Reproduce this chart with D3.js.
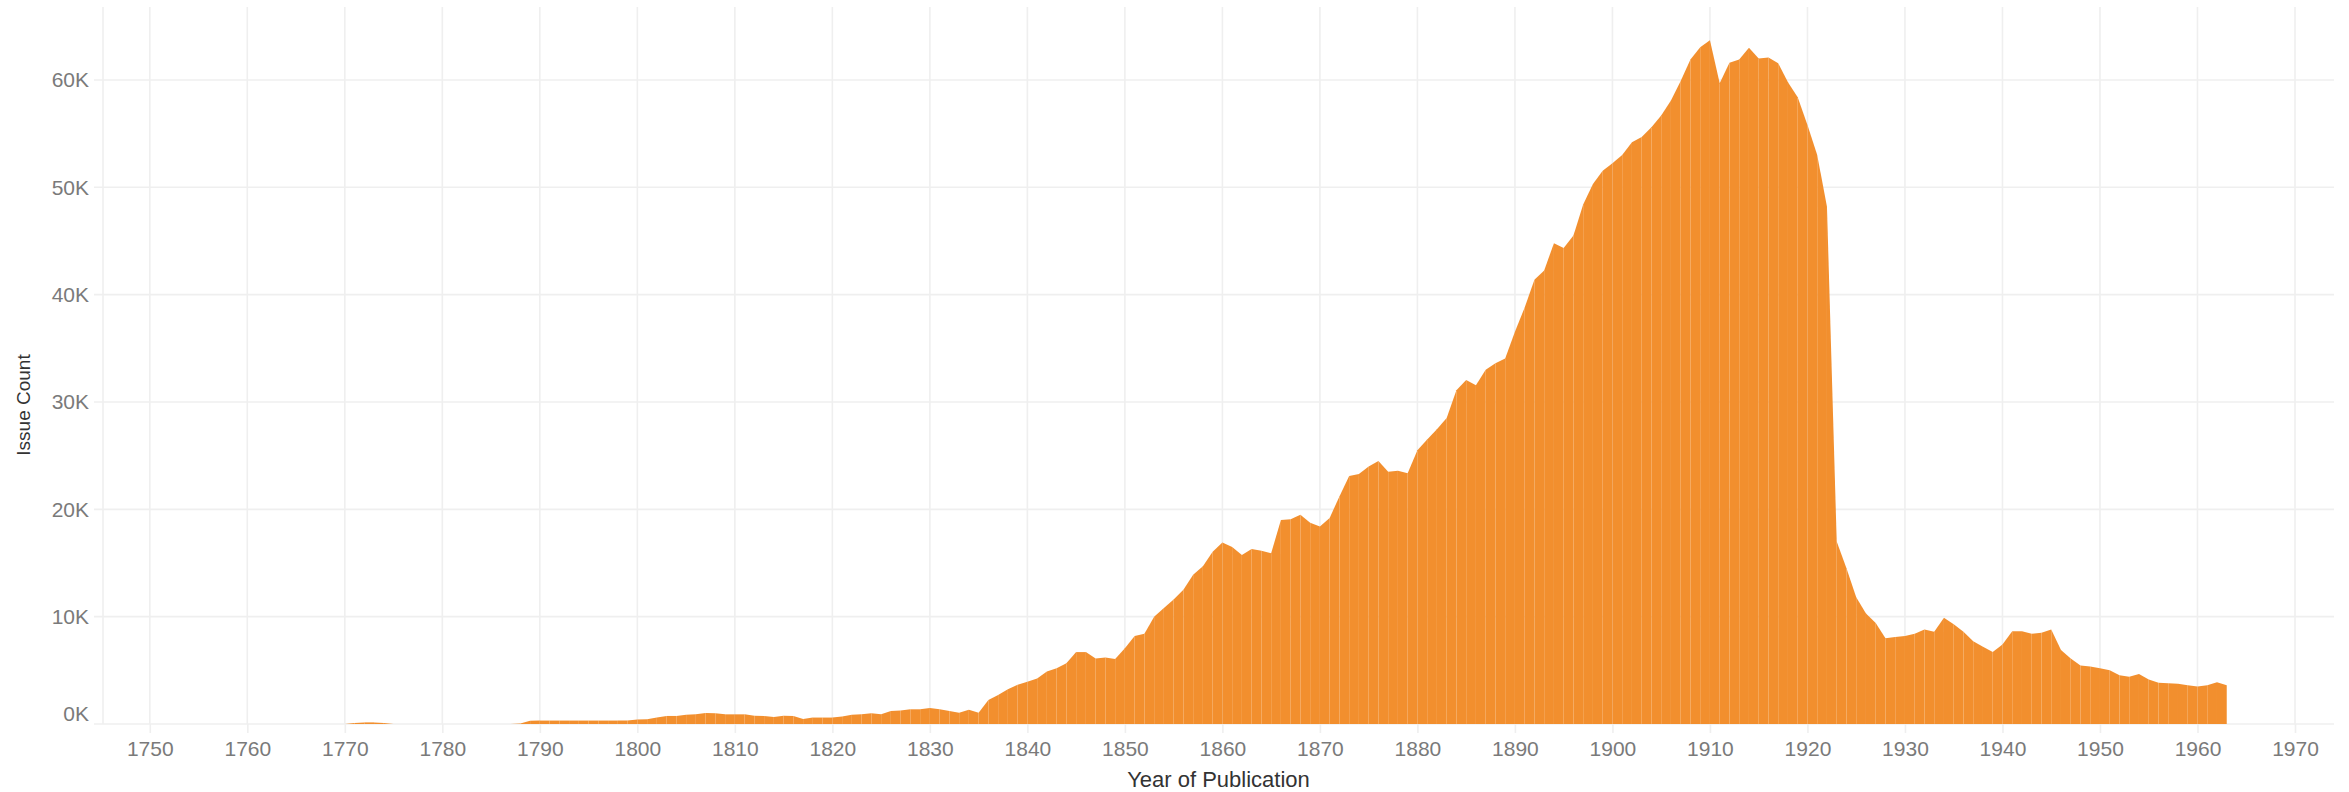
<!DOCTYPE html>
<html>
<head>
<meta charset="utf-8">
<script src="https://cdn.jsdelivr.net/npm/d3@7"></script>
<style>
  body { margin: 0; background: #fff; }
  svg { display: block; }
</style>
</head>
<body>
<svg id="chart"></svg>
<script>
// issue counts per year
var startYear = 1770;
var issueCounts = [
  0, 100, 150, 150, 100,                                   // 1770-1774
  0, 0, 0, 0, 0, 0, 0, 0, 0, 0, 0, 0, 0,                   // 1775-1787
  50, 300,                                                 // 1788-1789
  320, 320, 320, 320, 320, 320, 320, 320, 320, 330,        // 1790s
  430, 450, 600, 750, 750, 870, 900, 1020, 1000, 900,      // 1800s
  900, 900, 780, 750, 650, 780, 750, 470, 600, 600,        // 1810s
  600, 700, 870, 900, 1000, 900, 1200, 1250, 1370, 1370,   // 1820s
  1500, 1370, 1200, 1050, 1330, 1050, 2240, 2700, 3230, 3660, // 1830s
  3940, 4250, 4900, 5200, 5650, 6700, 6700, 6100, 6200, 6050, // 1840s
  7050, 8200, 8400, 10000, 10800, 11600, 12500, 13900, 14700, 16050, // 1850s
  16900, 16500, 15750, 16300, 16150, 15900, 19000, 19070, 19500, 18750, // 1860s
  18400, 19200, 21200, 23100, 23300, 24000, 24500, 23500, 23600, 23350, // 1870s
  25500, 26500, 27450, 28500, 31100, 32050, 31550, 33000, 33600, 34050, // 1880s
  36550, 38800, 41400, 42250, 44800, 44350, 45500, 48400, 50300, 51550, // 1890s
  52250, 53000, 54200, 54700, 55600, 56700, 58100, 59900, 61900, 63050, // 1900s
  63700, 59700, 61600, 61900, 63000, 62000, 62100, 61550, 59800, 58400, // 1910s
  55800, 53000, 48200, 17000, 14500, 11800, 10300, 9400, 8000, 8100,   // 1920s
  8200, 8400, 8800, 8600, 9900, 9300, 8600, 7700, 7200, 6700,          // 1930s
  7400, 8650, 8650, 8400, 8500, 8800, 6900, 6100, 5450, 5350,          // 1940s
  5200, 5000, 4550, 4400, 4650, 4150, 3850, 3800, 3750, 3600,          // 1950s
  3500, 3600, 3900, 3600                                               // 1960-1963
];
var yearTicks = d3.range(1750, 1971, 10);
var countTicks = [0, 10000, 20000, 30000, 40000, 50000, 60000];

var data = issueCounts.map(function(v, i) { return { year: startYear + i, count: v }; });

var width = 2349, height = 792;
// note: "top" is taken by window.top, so plot* names
var plotLeft = 103, plotRight = 2334, plotTop = 7, plotBottom = 724;
var gridColor = "#efefef";
var fillColor = "#f28f2e";

var svg = d3.select("#chart")
    .attr("width", width)
    .attr("height", height)
    .style("font-family", "'Liberation Sans', Arial, sans-serif");

var x = d3.scaleLinear().domain([1745.2, 1974]).range([plotLeft, plotRight]);
var y = d3.scaleLinear().domain([0, 66800]).range([plotBottom, plotTop]);

// grid
svg.append("g").selectAll("line")
    .data(yearTicks)
    .enter().append("line")
    .attr("x1", function(d) { return x(d); })
    .attr("x2", function(d) { return x(d); })
    .attr("y1", plotTop)
    .attr("y2", plotBottom)
    .attr("stroke", gridColor)
    .attr("stroke-width", 1.6);

svg.append("g").selectAll("line")
    .data(countTicks)
    .enter().append("line")
    .attr("x1", plotLeft - 9)
    .attr("x2", plotRight)
    .attr("y1", function(d) { return y(d); })
    .attr("y2", function(d) { return y(d); })
    .attr("stroke", gridColor)
    .attr("stroke-width", 1.6);

svg.append("line")
    .attr("x1", plotLeft).attr("x2", plotLeft)
    .attr("y1", plotTop).attr("y2", plotBottom)
    .attr("stroke", gridColor)
    .attr("stroke-width", 1.6);

// area, one piece per year so the joins show faintly like the original
var area = d3.area()
    .x(function(d) { return x(d.year); })
    .y0(y(0))
    .y1(function(d) { return y(d.count); });

var pieces = d3.pairs(data);
svg.append("g").selectAll("path")
    .data(pieces)
    .enter().append("path")
    .attr("d", function(p) { return area(p); })
    .attr("fill", fillColor);

// axes
var xAxis = d3.axisBottom(x)
    .tickValues(yearTicks)
    .tickSize(9)
    .tickPadding(8)
    .tickFormat(d3.format("d"));

var gx = svg.append("g")
    .attr("transform", "translate(0," + plotBottom + ")")
    .call(xAxis);
gx.select(".domain").remove();
gx.selectAll(".tick line").attr("stroke", gridColor).attr("stroke-width", 1.6);
gx.selectAll(".tick text")
    .attr("fill", "#7a7a7a")
    .style("font-size", "21px");

var yAxis = d3.axisLeft(y)
    .tickValues(countTicks)
    .tickSize(0)
    .tickPadding(14)
    .tickFormat(function(d) { return (d / 1000) + "K"; });

var gy = svg.append("g")
    .attr("transform", "translate(" + plotLeft + ",0)")
    .call(yAxis);
gy.select(".domain").remove();
gy.selectAll(".tick text")
    .attr("fill", "#7a7a7a")
    .style("font-size", "21px")
    .attr("y", function(d) { return d === 0 ? -10 : 0; });

// titles
svg.append("text")
    .attr("x", (plotLeft + plotRight) / 2)
    .attr("y", 787)
    .attr("text-anchor", "middle")
    .attr("fill", "#333")
    .style("font-size", "22px")
    .text("Year of Publication");

svg.append("text")
    .attr("transform", "translate(30,405) rotate(-90)")
    .attr("text-anchor", "middle")
    .attr("fill", "#333")
    .style("font-size", "19px")
    .text("Issue Count");
</script>
</body>
</html>
